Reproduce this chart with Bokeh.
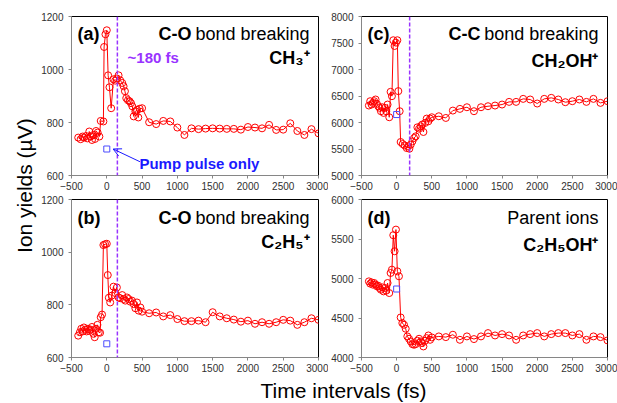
import math
from bokeh.plotting import figure
from bokeh.models import Range1d, Span, Label, Arrow, OpenHead, FixedTicker
from bokeh.layouts import row, column
from bokeh.embed import file_html
from bokeh.resources import INLINE

# ---------------- data ----------------
x_ticks = [-500, 0, 500, 1000, 1500, 2000, 2500, 3000]

# (a) CH3+  (C-O bond breaking)
t_a = [-405, -371, -343, -324, -295, -276, -248, -229, -210, -190, -167, -152, -129, -105, -86,
       -48, -38, -19, 0, 19, 38, 62,
       95, 119, 143, 167, 190, 219, 238, 257, 276, 300, 324, 343, 362, 381, 405, 428, 447, 466, 500,
       600, 700, 800, 900, 1000, 1100, 1200, 1300, 1400, 1500, 1600, 1700, 1800, 1900, 2000,
       2100, 2200, 2300, 2400, 2500, 2600, 2700, 2800, 2900, 3000]
y_a = [743, 737, 747, 743, 749, 740, 766, 747, 734, 753, 738, 768, 762, 747, 806,
       804, 1085, 1133, 1148, 978, 933, 854,
       963, 958, 966, 978, 959, 949, 937, 918, 892, 884, 880, 873, 861, 823, 842, 848, 819, 852, 854,
       801, 794, 806, 804, 781, 753, 778, 775, 777, 778, 777, 776, 776, 773, 783,
       781, 778, 791, 772, 773, 797, 768, 753, 775, 759]

# (b) C2H5+  (C-O bond breaking)
t_b = [-405, -381, -362, -343, -324, -305, -286, -267, -248, -229, -210, -190, -171, -152, -133, -114, -95, -86, -67,
       -48, -24, 0, 14, 29, 48, 71,
       95, 119, 143, 167, 190, 219, 238, 262, 286, 309, 333, 357, 381, 405, 428, 452, 476, 500,
       600, 700, 800, 900, 1000, 1100, 1200, 1300, 1400, 1500, 1600, 1700, 1800, 1900, 2000,
       2100, 2200, 2300, 2400, 2500, 2600, 2700, 2800, 2900, 3000]
y_b = [683, 696, 709, 699, 714, 706, 699, 709, 701, 706, 716, 690, 677, 709, 724, 696, 694, 753, 763,
       1027, 1030, 1032, 913, 827, 809, 835,
       869, 845, 866, 828, 825, 837, 822, 816, 828, 822, 812, 816, 803, 787, 809, 778, 790, 774,
       768, 771, 756, 761, 746, 738, 738, 740, 734, 772, 756, 749, 744, 736, 740,
       728, 734, 728, 734, 743, 740, 724, 734, 749, 743]

# (c) CH2OH+  (C-C bond breaking)
t_c = [-395, -376, -357, -338, -319, -300, -281, -262, -243, -224, -205, -186, -167, -148, -129, -105, -86, -67,
       -48, -29, -10, 10, 24, 43, 57, 86, 114, 143, 162, 181, 200, 224, 248, 271, 295, 319, 343, 362, 381,
       405, 428, 452, 476, 500,
       600, 700, 800, 900, 1000, 1100, 1200, 1300, 1400, 1500, 1600, 1700, 1800, 1900, 2000,
       2100, 2200, 2300, 2400, 2500, 2600, 2700, 2800, 2900, 3000]
y_c = [6320, 6402, 6339, 6370, 6402, 6434, 6352, 6307, 6276, 6213, 6288, 6181, 6276, 6213, 6339, 6099, 6579, 6497,
       7552, 7444, 7507, 7552, 6592, 6213, 5632, 5594, 5568, 5518, 5549, 5505, 5581, 5644, 5707, 5739, 5909,
       5884, 5928, 5960, 5821, 5992, 6074, 6023, 6074, 6099,
       6118, 6086, 6225, 6257, 6288, 6213, 6288, 6307, 6320, 6339, 6389, 6389, 6446, 6434, 6358,
       6446, 6465, 6434, 6383, 6402, 6434, 6389, 6446, 6370, 6402]

# (d) C2H5OH+  (parent ions)
t_d = [-395, -376, -357, -338, -319, -300, -281, -262, -243, -224, -205, -186, -167, -148, -129, -105, -86, -67,
       -48, -29, -10, 10, 33, 57, 81, 105, 129, 152, 176, 200, 224, 248, 271, 295, 319, 343, 362, 381,
       405, 428, 452, 476, 500,
       600, 700, 800, 900, 1000, 1100, 1200, 1300, 1400, 1500, 1600, 1700, 1800, 1900, 2000,
       2100, 2200, 2300, 2400, 2500, 2600, 2700, 2800, 2900, 3000]
y_d = [4964, 4935, 4951, 4922, 4943, 4922, 4901, 4909, 4880, 4858, 4888, 4837, 4880, 4846, 4943, 4816, 5070, 5112,
       5548, 5345, 5619, 5091, 5028, 4507, 4436, 4414, 4364, 4267, 4237, 4203, 4169, 4161, 4169, 4212,
       4237, 4203, 4182, 4140, 4212, 4245, 4279, 4224, 4254,
       4267, 4258, 4288, 4224, 4267, 4233, 4267, 4309, 4279, 4296, 4279, 4224, 4279, 4296, 4309,
       4267, 4296, 4309, 4309, 4279, 4296, 4224, 4267, 4258, 4216]

# pump pulse only points: (a), (b), (c), (d)
pump_t = [0, 0, 0, 0]
pump_y = [700, 652, 6150, 4867]

# dashed-line positions (fs)
vline_ab = 150
vline_c = 185

# ---------------- style ----------------
FONT = "Liberation Sans"
RED = "#FF0000"
BLUE = "#1A1AFF"
SQ_BLUE = "#4B4BFF"
PURPLE = "#9933FF"
AXIS_GRAY = "#868686"
TICK_TXT = "#303030"


def frac(rng, f):
    return rng.start + f * (rng.end - rng.start)


def make_panel(w, h, bl, br, bt, bb, ylim, yticks, t, y, pt, py, vline):
    p = figure(width=w, height=h, x_range=Range1d(-500, 3000), y_range=Range1d(*ylim),
               output_backend="svg", toolbar_location=None,
               min_border_left=bl, min_border_right=br, min_border_top=bt, min_border_bottom=bb)
    p.grid.visible = False
    p.outline_line_color = "black"
    p.outline_line_width = 1
    p.background_fill_color = "white"
    p.border_fill_color = "white"
    p.xaxis.ticker = FixedTicker(ticks=x_ticks)
    p.yaxis.ticker = FixedTicker(ticks=yticks)
    for ax in (p.xaxis[0], p.yaxis[0]):
        ax.axis_line_color = AXIS_GRAY
        ax.major_tick_line_color = AXIS_GRAY
        ax.major_tick_out = 3
        ax.major_tick_in = 0
        ax.minor_tick_line_color = None
        ax.major_label_text_font = FONT
        ax.major_label_text_font_size = "10px"
        ax.major_label_text_color = TICK_TXT
    p.xaxis[0].major_label_standoff = 3
    p.yaxis[0].major_label_standoff = 5
    if vline is not None:
        p.add_layout(Span(location=vline, dimension="height", line_color=PURPLE,
                          line_dash="4 2", line_width=1.5))
    p.line(t, y, line_color=RED, line_width=1)
    p.scatter(t, y, marker="circle", size=7, fill_color=None, line_color=RED, line_width=1)
    p.scatter([pt], [py], marker="square", size=6, fill_color=None, line_color=SQ_BLUE, line_width=1)
    return p


def add_text(p, fx, fy, text, size="18px", bold=True, align="left", color="black", x_offset=0):
    p.add_layout(Label(x=frac(p.x_range, fx), y=frac(p.y_range, fy), text=text,
                       text_font=FONT, text_font_size=size,
                       text_font_style="bold" if bold else "normal",
                       text_align=align, text_baseline="middle", text_color=color,
                       x_offset=x_offset))


YW = 38
LW, RW = 290, 289
TH, BH = 193, 184

pa = make_panel(LW, TH, 33, 10, 16, 18, (600, 1200), [600, 800, 1000, 1200], t_a, y_a, pump_t[0], pump_y[0], vline_ab)
pb = make_panel(LW, BH, 33, 10, 6, 20, (600, 1200), [600, 800, 1000, 1200], t_b, y_b, pump_t[1], pump_y[1], vline_ab)
pc = make_panel(RW, TH, 33, 10, 16, 18, (5000, 8000), [5000, 5500, 6000, 6500, 7000, 7500, 8000], t_c, y_c, pump_t[2], pump_y[2], vline_c)
pd = make_panel(RW, BH, 33, 10, 6, 20, (4000, 6000), [4000, 4500, 5000, 5500, 6000], t_d, y_d, pump_t[3], pump_y[3], None)

# panel (a) texts
add_text(pa, 0.024, 0.893, "(a)")
add_text(pa, 0.964, 0.893, "bond breaking", bold=False, align="right")
add_text(pa, 0.964, 0.893, "C-O", align="right", x_offset=-118)
add_text(pa, 0.964, 0.736, "CH₃⁺", align="right")
add_text(pa, 0.227, 0.742, "~180 fs", size="15px", color=PURPLE)
add_text(pa, 0.275, 0.075, "Pump pulse only", size="15px", color=BLUE)
pa.add_layout(Arrow(end=OpenHead(size=8, line_color=BLUE, line_width=1),
                    x_start=470, y_start=652, x_end=90, y_end=700,
                    line_color=BLUE, line_width=1))

# panel (b) texts
add_text(pb, 0.024, 0.88, "(b)")
add_text(pb, 0.964, 0.88, "bond breaking", bold=False, align="right")
add_text(pb, 0.964, 0.88, "C-O", align="right", x_offset=-118)
add_text(pb, 0.964, 0.728, "C₂H₅⁺", align="right")

# panel (c) texts
add_text(pc, 0.024, 0.893, "(c)")
add_text(pc, 0.963, 0.893, "bond breaking", bold=False, align="right")
add_text(pc, 0.963, 0.893, "C-C", align="right", x_offset=-118)
add_text(pc, 0.963, 0.723, "CH₂OH⁺", align="right")

# panel (d) texts
add_text(pd, 0.024, 0.88, "(d)")
add_text(pd, 0.963, 0.88, "Parent ions", bold=False, align="right")
add_text(pd, 0.963, 0.709, "C₂H₅OH⁺", align="right")

# global axis titles
yfig = figure(width=YW, height=TH + BH, x_range=Range1d(0, 1), y_range=Range1d(0, 1),
              output_backend="svg", toolbar_location=None, x_axis_location=None, y_axis_location=None,
              min_border=0, outline_line_color=None)
yfig.grid.visible = False
yfig.add_layout(Label(x=0.63, y=0.509, text="Ion yields (µV)", angle=math.pi / 2,
                      text_font=FONT, text_font_size="21px", text_align="center",
                      text_baseline="middle", text_color="black"))

xfig = figure(width=YW + LW + RW, height=26, x_range=Range1d(0, 1), y_range=Range1d(0, 1),
              output_backend="svg", toolbar_location=None, x_axis_location=None, y_axis_location=None,
              min_border=0, outline_line_color=None)
xfig.grid.visible = False
xfig.add_layout(Label(x=0.556, y=0.5, text="Time intervals (fs)",
                      text_font=FONT, text_font_size="21px", text_align="center",
                      text_baseline="middle", text_color="black"))

layout = column(row(yfig, column(pa, pb), column(pc, pd)), xfig)

open("out.html", "w").write(file_html(layout, INLINE))
